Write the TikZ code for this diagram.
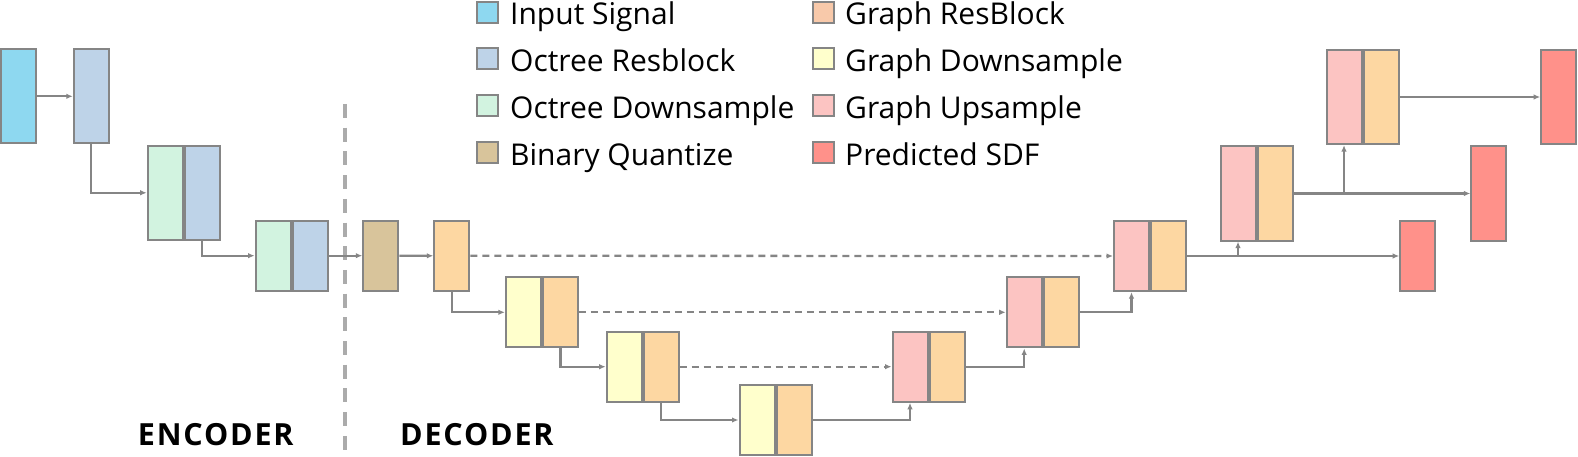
\documentclass[tikz,border=0pt]{standalone}
\usepackage{fontspec}
\setmainfont{Open Sans}
\usetikzlibrary{arrows.meta}
\definecolor{cInput}{HTML}{8ED8F0}
\definecolor{cOR}{HTML}{BED3E8}
\definecolor{cOD}{HTML}{D2F3E0}
\definecolor{cBQ}{HTML}{D8C49B}
\definecolor{cGR}{HTML}{FDD7A2}
\definecolor{cGRl}{HTML}{F8C9AA}
\definecolor{cGD}{HTML}{FFFFCC}
\definecolor{cGU}{HTML}{FCC4C2}
\definecolor{cSDF}{HTML}{FF918A}
\definecolor{cBorder}{HTML}{858585}
\definecolor{cLine}{HTML}{858585}
\definecolor{cSep}{HTML}{ABABAB}
\begin{document}
\begin{tikzpicture}[x=1pt,y=-1pt,
  blk/.style={draw=cBorder, line width=2pt, inner sep=0pt, minimum width=35pt},
  tall/.style={minimum height=94.2pt},
  short/.style={minimum height=70.2pt},
  conn/.style={draw=cLine, line width=2.3pt, -{Latex[length=6.5pt,width=5.5pt]}},
  skipconn/.style={conn, dash pattern=on 7pt off 5pt},
  lgbox/.style={draw=cBorder, line width=2pt, inner sep=0pt, minimum width=21pt, minimum height=21pt},
  lgtext/.style={inner sep=0pt, anchor=base west, font=\fontsize{30}{32}\selectfont},
  parttext/.style={inner sep=0pt, anchor=base, font=\fontsize{30.5}{32}\selectfont\bfseries\addfontfeature{LetterSpace=6}}
]
\useasboundingbox (0,0) rectangle (1578,457);

% separator
\coordinate (vt) at (345,104);
\coordinate (vb) at (345,450);
\draw[cSep, line width=4pt, dash pattern=on 14pt off 9.7pt] (vt) -- (vb);

% encoder
\node[blk,tall,fill=cInput] (IN) at (18.6,96.3) {};
\node[blk,tall,fill=cOR] (R1) at (91.3,96.3) {};
\node[blk,tall,fill=cOD] (E2a) at (165.2,192.8) {};
\node[blk,tall,fill=cOR,anchor=west] (E2b) at (E2a.east) {};
\node[blk,short,fill=cOD] (E3a) at (273.1,255.7) {};
\node[blk,short,fill=cOR,anchor=west] (E3b) at (E3a.east) {};
\node[blk,short,fill=cBQ] (Q) at (380.8,255.7) {};

% decoder
\node[blk,short,fill=cGR] (G0) at (451.8,255.8) {};
\node[blk,short,fill=cGD] (D1a) at (523.4,312.3) {};
\node[blk,short,fill=cGR,anchor=west] (D1b) at (D1a.east) {};
\node[blk,short,fill=cGD] (D2a) at (624.2,366.7) {};
\node[blk,short,fill=cGR,anchor=west] (D2b) at (D2a.east) {};
\node[blk,short,fill=cGD] (D3a) at (757,420) {};
\node[blk,short,fill=cGR,anchor=west] (D3b) at (D3a.east) {};
\node[blk,short,fill=cGU] (U1a) at (910,366.7) {};
\node[blk,short,fill=cGR,anchor=west] (U1b) at (U1a.east) {};
\node[blk,short,fill=cGU] (U2a) at (1024.2,312.3) {};
\node[blk,short,fill=cGR,anchor=west] (U2b) at (U2a.east) {};
\node[blk,short,fill=cGU] (U3a) at (1131.5,256) {};
\node[blk,short,fill=cGR,anchor=west] (U3b) at (U3a.east) {};
\node[blk,tall,fill=cGU] (U4a) at (1238,193.5) {};
\node[blk,tall,fill=cGR,anchor=west] (U4b) at (U4a.east) {};
\node[blk,tall,fill=cGU] (U5a) at (1344,97) {};
\node[blk,tall,fill=cGR,anchor=west] (U5b) at (U5a.east) {};
\node[blk,short,fill=cSDF] (S1) at (1417.7,256) {};
\node[blk,tall,fill=cSDF] (S2) at (1488.8,193.5) {};
\node[blk,tall,fill=cSDF] (S3) at (1558.7,97) {};

% connectors
\draw[conn] (IN.east) -- (R1.west);
\draw[conn] (R1.south) |- (E2a.west);
\draw[conn] (E2b.south) |- (E3a.west);
\draw[conn] (E3b.east) -- (Q.west);
\draw[conn] (Q.east) -- (G0.west);
\draw[conn] (G0.south) |- (D1a.west);
\draw[conn] (D1b.south) |- (D2a.west);
\draw[conn] (D2b.south) |- (D3a.west);
\draw[conn] (D3b.east) -| (U1a.south);
\draw[conn] (U1b.east) -| (U2a.south);
\draw[conn] (U2b.east) -| (U3a.south);
\draw[conn] (U3b.east) -| (U4a.south);
\draw[conn] (U3b.east) -- (S1.west);
\draw[conn] (U4b.east) -| (U5a.south);
\draw[conn] (U4b.east) -- (S2.west);
\draw[conn] (U5b.east) -- (S3.west);
\draw[skipconn] (G0.east) -- (U3a.west);
\draw[skipconn] (D1b.east) -- (U2a.west);
\draw[skipconn] (D2b.east) -- (U1a.west);

% legend
\node[lgbox,fill=cInput] (L1) at (487,12.7) {};
\node[lgbox,fill=cOR] (L2) at (487,58.8) {};
\node[lgbox,fill=cOD] (L3) at (487,105.5) {};
\node[lgbox,fill=cBQ] (L4) at (487,152.5) {};
\node[lgbox,fill=cGRl] (L5) at (823.8,12.7) {};
\node[lgbox,fill=cGD] (L6) at (823.8,58.8) {};
\node[lgbox,fill=cGU] (L7) at (823.8,105.5) {};
\node[lgbox,fill=cSDF] (L8) at (823.8,152.5) {};
\node[lgtext] (T1) at (510,25) {Input Signal};
\node[lgtext] (T2) at (510,72) {Octree Resblock};
\node[lgtext] (T3) at (510,119) {Octree Downsample};
\node[lgtext] (T4) at (510,166) {Binary Quantize};
\node[lgtext] (T5) at (845,25) {Graph ResBlock};
\node[lgtext] (T6) at (845,72) {Graph Downsample};
\node[lgtext] (T7) at (845,119) {Graph Upsample};
\node[lgtext] (T8) at (845,166) {Predicted SDF};

\node[parttext] (ENC) at (215.8,445) {ENCODER};
\node[parttext] (DEC) at (476.9,445) {DECODER};
\end{tikzpicture}
\end{document}
